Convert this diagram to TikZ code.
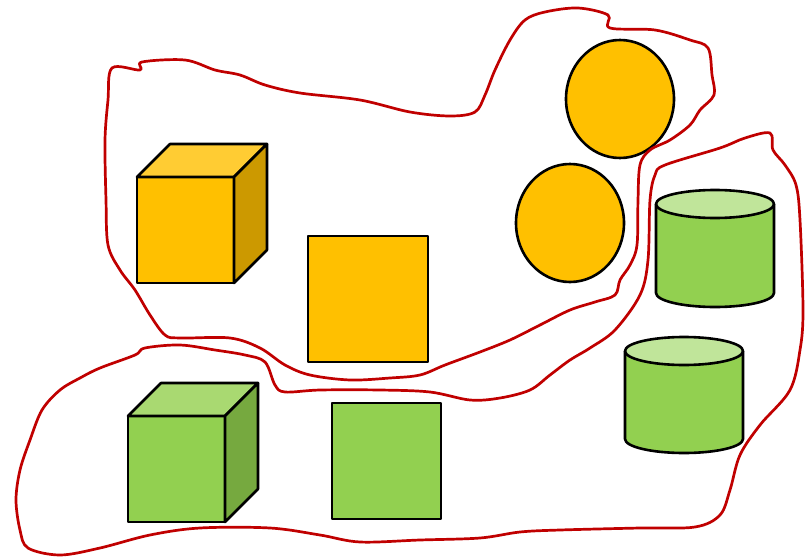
\documentclass[tikz,border=0pt]{standalone}
\usetikzlibrary{calc}

\definecolor{gold}{HTML}{FFC000}
\definecolor{goldtop}{HTML}{FFCC33}
\definecolor{goldside}{HTML}{CC9900}
\definecolor{leaf}{HTML}{92D050}
\definecolor{leaftop}{HTML}{A9D971}
\definecolor{leafside}{HTML}{76A93F}
\definecolor{leaflid}{HTML}{C0E59A}
\definecolor{lasso}{HTML}{C00000}

\tikzset{
    solid/.style={draw=black, line width=2.6pt, line join=round},
    lassoline/.style={draw=lasso, line width=2.7pt, line join=round}
}

\begin{document}
\begin{tikzpicture}[x=1pt, y=-1pt]
    \useasboundingbox (0,0) rectangle (809,557);

    % Constants
    \pgfmathsetmacro{\d}{33}
    \pgfmathsetmacro{\rx}{59}
    \pgfmathsetmacro{\ry}{14}

    % Orange cube
    \coordinate (A) at (137,177);
    \coordinate (B) at (234,283);
    \fill [gold, solid] (A) rectangle (B);
    \fill [goldtop, solid] (A) -- ++(\d,-\d) -- ++(97,0) -- (B |- A) -- cycle;
    \fill [goldside, solid] (B |- A) -- ++(\d,-\d) -- ++(0,106) -- (B) -- cycle;

    % Orange square
    \fill [gold, solid] (308,236) rectangle (428,362);

    % Orange circles
    \fill [gold, solid] (620,99) ellipse [x radius=54, y radius=59];
    \fill [gold, solid] (570,223) ellipse [x radius=54, y radius=59];

    % Green cube
    \coordinate (C) at (128,416);
    \coordinate (D) at (225,522);
    \fill [leaf, solid] (C) rectangle (D);
    \fill [leaftop, solid] (C) -- ++(\d,-\d) -- ++(97,0) -- (D |- C) -- cycle;
    \fill [leafside, solid] (D |- C) -- ++(\d,-\d) -- ++(0,106) -- (D) -- cycle;

    % Green square
    \fill [leaf, solid] (332,403) rectangle (441,519);

    % Green cylinders
    \foreach \cx/\top/\bot in {715/204/293, 684/351/439} {
        \fill [leaf, solid] (\cx-\rx,\top) -- (\cx-\rx,\bot)
            arc [start angle=180, end angle=0, x radius=\rx, y radius=\ry]
            -- (\cx+\rx,\top);
        \fill [leaflid, solid] (\cx,\top) ellipse [x radius=\rx, y radius=\ry];
    }

    % Upper lasso
    \draw [lassoline] plot [smooth cycle, tension=0.55] coordinates {
        (112,68) (140,70) (142,62) (185,60) (215,70) (240,75) (265,85) (300,93)
        (360,100) (410,112) (450,116) (475,112) (485,95) (495,70) (510,40)
        (525,20) (545,12) (578,8) (608,15) (610,28) (655,30) (690,40) (708,48)
        (712,75) (714,95) (700,110) (690,125) (670,140) (650,150) (640,165)
        (638,200) (637,245) (630,265) (620,280) (615,295) (595,302) (570,310)
        (540,325) (510,340) (480,352) (445,365) (420,375) (390,378) (350,380)
        (310,375) (285,365) (260,348) (230,338) (180,338) (165,335) (150,315)
        (135,290) (120,270) (108,245) (106,200) (105,140) (108,100)
    };

    % Lower lasso
    \draw [lassoline] plot [smooth cycle, tension=0.55] coordinates {
        (28,548) (60,555) (100,548) (150,535) (200,528) (270,528) (320,535)
        (360,542) (420,540) (480,538) (520,532) (560,530) (640,528) (695,527)
        (720,515) (730,490) (740,455) (760,425) (790,390) (800,350) (803,310)
        (800,220) (796,185) (785,165) (773,150) (770,133) (745,138) (720,148)
        (665,165) (655,175) (650,200) (648,260) (640,295) (615,330) (590,348)
        (570,360) (550,375) (530,390) (500,398) (470,400) (430,392) (380,390)
        (320,390) (285,392) (275,385) (265,362) (245,355) (215,350) (180,345)
        (145,348) (135,355) (100,368) (80,378) (60,390) (42,410) (30,440)
        (20,470) (16,500) (20,530)
    };

\end{tikzpicture}
\end{document}
